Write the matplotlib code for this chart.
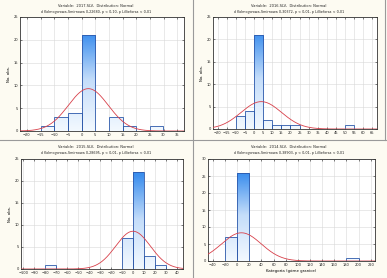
import numpy as np
import matplotlib
matplotlib.use("Agg")
import matplotlib.pyplot as plt
from matplotlib.colors import LinearSegmentedColormap

# panel data: bin left edges, counts, fitted normal (mean, sd)
titles = ["Variable:  2017.SLV,  Distribution: Normal",
          "Variable:  2016.SLV,  Distribution: Normal",
          "Variable:  2015.SLV,  Distribution: Normal",
          "Variable:  2014.SLV,  Distribution: Normal"]
subtitles = ["d Kolmogorowa-Smirnowa 0,22680, p < 0,10, p Lillieforsa < 0,01",
             "d Kolmogorowa-Smirnowa 0,30372, p < 0,01, p Lillieforsa < 0,01",
             "d Kolmogorowa-Smirnowa 0,28695, p < 0,01, p Lillieforsa < 0,01",
             "d Kolmogorowa-Smirnowa 0,38903, p < 0,01, p Lillieforsa < 0,01"]

edges_2017 = [-15, -10, -5, 0, 5, 10, 15, 20, 25]
counts_2017 = [1, 3, 4, 21, 0, 3, 1, 0, 1]
edges_2016 = [-10, -5, 0, 5, 10, 15, 20, 50]
counts_2016 = [3, 4, 21, 2, 1, 1, 1, 1]
edges_2015 = [-80, -10, 0, 10, 20]
counts_2015 = [1, 7, 22, 3, 1]
edges_2014 = [-20, 0, 180]
counts_2014 = [7, 26, 1]

widths = [5, 5, 10, 20]
means = [2.5, 4.0, 0.0, 7.0]
sds = [7.3, 11.1, 15.8, 32.7]

xticks = [np.arange(-20, 36, 5), np.arange(-20, 66, 5),
          np.arange(-100, 41, 10), np.arange(-40, 221, 20)]
xlims = [(-22.5, 37.5), (-22.5, 67.5), (-102, 45.5), (-48, 227)]
ylims = [25, 25, 25, 30]

edges = [edges_2017, edges_2016, edges_2015, edges_2014]
counts = [counts_2017, counts_2016, counts_2015, counts_2014]

# axes rectangles in pixels: left, top, right, bottom
W, H = 387, 278
boxes = [(20, 17, 184, 131), (213, 17, 377, 129),
         (21, 159, 183, 269), (208, 159, 375, 261)]
title_y = [6, 6, 147, 147]
centers = [96, 289, 96, 289]

bar_cmap = LinearSegmentedColormap.from_list(
    "bars", [(0, "#f3f9ff"), (0.45, "#c4ddfa"), (0.85, "#3d8fee"), (1, "#2c80e6")])

fig = plt.figure(figsize=(W / 100, H / 100), dpi=100)
fig.patch.set_facecolor("#fdfbf2")

for i in range(4):
    l, t, r, b = boxes[i]
    ax = fig.add_axes([l / W, 1 - b / H, (r - l) / W, (b - t) / H])
    ax.set_facecolor("white")
    w = widths[i]
    bars = ax.bar(edges[i], counts[i], width=w, align="edge",
                  facecolor="none", edgecolor="#2c58aa", linewidth=0.6, zorder=3)
    grad = np.linspace(0, 1, 256).reshape(-1, 1)
    for p, c in zip(bars.patches, counts[i]):
        if c == 0:
            continue
        im = ax.imshow(grad, cmap=bar_cmap, origin="lower", aspect="auto",
                       extent=(p.get_x(), p.get_x() + w, 0, ylims[i]), zorder=2)
        im.set_clip_path(p)
    n = sum(counts[i])
    xs = np.linspace(xlims[i][0], xlims[i][1], 400)
    ys = n * w / (sds[i] * np.sqrt(2 * np.pi)) * np.exp(-0.5 * ((xs - means[i]) / sds[i]) ** 2)
    ax.plot(xs, ys, color="#d8404a", linewidth=0.6, zorder=4)

    ax.set_xlim(xlims[i])
    ax.set_ylim(0, ylims[i])
    ax.set_xticks(xticks[i])
    ax.set_yticks(np.arange(0, ylims[i] + 1, 5))
    ax.tick_params(labelsize=2.6, length=1.2, width=0.4, pad=1.2, colors="#222222",
                   top=True, right=True, direction="in")
    ax.grid(True, color="#d8d8d8", linewidth=0.4, zorder=0)
    ax.set_axisbelow(True)
    for s in ax.spines.values():
        s.set_linewidth(0.6)
        s.set_color("#333333")
    if i < 3:
        ax.set_ylabel("No. obs.", fontsize=2.8, labelpad=2)
    else:
        ax.set_xlabel("Kategoria (górne granice)", fontsize=2.8, labelpad=2)

    fig.text(centers[i] / W, 1 - title_y[i] / H, titles[i], fontsize=2.6,
             ha="center", va="center", color="#222222")
    fig.text(centers[i] / W, 1 - (title_y[i] + 6) / H, subtitles[i], fontsize=2.4,
             ha="center", va="center", color="#222222")

# panel separators like the screenshot
fig.add_artist(plt.Line2D([193 / W, 193 / W], [0, 1], color="#9a9a9a", linewidth=0.8))
fig.add_artist(plt.Line2D([0, 1], [1 - 139.5 / H, 1 - 139.5 / H], color="#9a9a9a", linewidth=0.8))
fig.add_artist(plt.Line2D([384.5 / W, 384.5 / W], [1 - 139.5 / H, 1], color="#9a9a9a", linewidth=0.8))

fig.savefig("out.png", dpi=100, facecolor=fig.get_facecolor())
